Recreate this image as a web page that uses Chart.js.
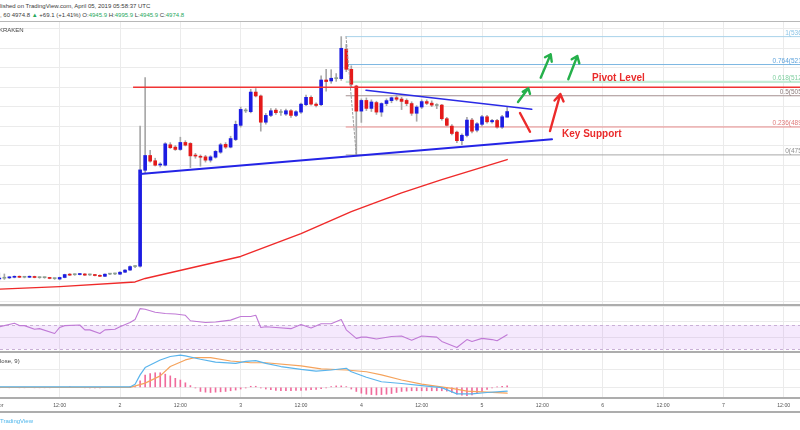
<!DOCTYPE html>
<html><head><meta charset="utf-8">
<script src="https://cdn.jsdelivr.net/npm/chart.js@4.4.1/dist/chart.umd.min.js"></script>
<style>
html,body{margin:0;padding:0;background:#fff;}
body{width:800px;height:430px;position:relative;overflow:hidden;font-family:"Liberation Sans",Arial,sans-serif;}
.t{position:absolute;white-space:nowrap;line-height:6px;}
.g{color:#27a85c;}
.sep{position:absolute;left:0;width:800px;background:#adadad;}
canvas{position:absolute;left:0;}
</style></head><body>
<div class="t" style="left:0;top:3px;font-size:6px;color:#3a3a3a">lished on TradingView.com, April 05, 2019 05:58:37 UTC</div>
<div class="t" id="ohlc" style="left:0;top:11.7px;font-size:6px;color:#3a3a3a"></div>
<div class="sep" style="top:21px;height:1px;background:#b8b8b8"></div>
<canvas id="main" width="800" height="282" style="top:22px;width:800px;height:282px"></canvas>
<div class="t" style="left:-1px;top:26.5px;font-size:6px;color:#444">KRAKEN</div>
<div class="sep" style="top:304px;height:2px"></div>
<canvas id="rsi" width="800" height="45" style="top:306px;width:800px;height:45px"></canvas>
<div class="sep" style="top:351px;height:2px"></div>
<canvas id="macd" width="800" height="58" style="top:353px;width:800px;height:58px"></canvas>
<div class="t" style="left:0;top:357.5px;font-size:6px;color:#444">lose, 9)</div>
<div class="sep" style="top:397px;height:2px"></div>
<div class="sep" style="top:411px;height:2px"></div>
<div class="t" style="left:0;top:418px;font-size:6px;color:#4db6ec">TradingView</div>
<script>
// ---------- DATA ----------
const tickHours  = [0,12,24,36,48,60,72,84,96,108,120,132,144,156];
const tickLabels = ['Apr','12:00','2','12:00','3','12:00','4','12:00','5','12:00','6','12:00','7','12:00'];
const priceGrid = [4000,4100,4200,4300,4400,4500,4600,4700,4800,4900,5000,5100,5200,5300,5400];

// hourly candles, first candle = Apr 1 00:00
const opens  = [4114,4118,4120,4123,4127,4123,4123,4127,4122,4121,4121,4117,4114,4122,4138,4136,4137,4140,4135,4136,
 4133,4128,4139,4140,4139,4149,4160,4178,4180,4673,4749,4722,4700,4699,4804,4792,4780,4816,4811,4750,
 4745,4742,4725,4740,4766,4806,4792,4831,4904,4981,4974,5075,5055,4920,4955,4982,4970,4962,4979,4955,
 4972,5010,5048,5013,5010,5137,5132,5146,5144,5295,5192,5106,4977,5032,4991,5021,4972,5016,5031,5046,
 5039,5032,5016,4966,4998,5026,5018,5008,5008,4938,4900,4869,4825,4852,4931,4879,4909,4948,4922,4929,
 4895,4945.9];
const highs  = [4146,4140,4127,4130,4130,4127,4130,4129,4125,4124,4123,4119,4124,4139,4142,4141,4143,4142,4139,4138,
 4135,4141,4143,4144,4152,4162,4182,4183,4900,5150,4775,4735,4712,4815,4815,4800,4843,4825,4815,4760,
 4752,4750,4748,4775,4812,4815,4848,4926,4998,4990,5089,5093,5060,4965,4990,4990,4985,4988,4985,4980,
 5018,5060,5055,5020,5158,5192,5190,5170,5360,5320,5210,5110,5040,5045,5035,5028,5020,5040,5050,5060,
 5048,5040,5025,5005,5035,5035,5030,5015,5012,4945,4908,4875,4860,4945,4940,4918,4955,4955,4935,4935,
 4955,4995.9];
const lows   = [4108,4112,4116,4120,4121,4120,4121,4120,4118,4118,4115,4112,4110,4120,4132,4133,4135,4132,4132,4130,
 4126,4126,4136,4137,4137,4147,4158,4172,4175,4660,4715,4695,4690,4695,4785,4775,4775,4798,4687,4735,
 4694,4715,4715,4735,4760,4785,4788,4825,4895,4970,4968,5050,4874,4910,4948,4960,4955,4955,4945,4948,
 4965,5005,5008,4998,5005,5080,5120,5130,5135,5180,5100,4752,4919,4980,4975,4960,4950,5005,5020,5030,
 4985,5005,4955,4925,4990,5010,5000,4990,4930,4900,4855,4815,4805,4845,4865,4870,4900,4915,4915,4890,
 4888,4945.9];
const closes = [4118,4120,4124,4127,4123,4124,4127,4122,4121,4121,4117,4116,4122,4137,4134,4138,4141,4134,4136,4132,
 4128,4139,4140,4140,4149,4160,4178,4180,4675,4749,4720,4699,4704,4809,4789,4780,4816,4802,4747,4746,
 4740,4725,4742,4770,4804,4792,4836,4909,4986,4978,5075,5055,4920,4955,4979,4969,4972,4979,4955,4974,
 5013,5048,5013,5006,5137,5129,5146,5144,5300,5192,5115,4977,5032,4991,5024,4972,5016,5031,5046,5038,
 5027,5016,4966,4998,5026,5017,5008,5006,4938,4904,4862,4825,4853,4931,4874,4912,4948,4922,4929,4895,
 4948,4974.8];

// moving average (read at points)
const maHours  = [0,12,27,29,40,48,60,70,80,88,101];
const maValues = [4062,4075,4099,4117,4182,4230,4347,4460,4557,4625,4728];

// RSI (read at points)
const rsiHours  = [0,3,4,5,7,8,11,12,13,16,17,18,20,21,23,24,26,27,28,29,31,33,35,37,38,41,43,44,46,48,50,51,52,53,55,58,60,62,64,66,68,69,71,72,73,75,78,80,82,84,87,88,91,93,94,96,98,99,101];
const rsiValues = [67,73,69,69,63,64,56,66,69,70,62,62,56,62,63,67,74,79,97,96,91,89,88,86,77,74,75,76,78,84,84,86,66,67,66,64,71,65,72,72,79,62,48,50,50,47,51,52,45,52,50,43,33,46,43,48,46,44,54];
const rsiBand = [30,70];
const rsiGrid = [50,75,100];

// MACD (read at points)
const macdHours  = [0,7,26,27,28,29,32,34,36,37,40,43,47,49,51,53,56,60,63,66,69,70,73,76,80,84,88,91,94,97,101];
const macdValues = [1,1,1,9,36,57,79,89,93,91,81,73,69,75,77,69,60,52,47,50,55,45,29,16,11,5,-1,-19,-19,-15,-11];
const signalHours  = [0,26,29,32,34,37,39,42,46,50,53,60,64,69,73,76,80,84,90,93,97,101];
const signalValues = [0,0,12,33,60,79,86,86,76,71,71,62,53,50,45,36,21,9,-3,-11,-14,-17];
const histValues = [-1,0,-1,0,-1,-1,0,-1,-1,-1,-1,0,0,0,1,0,0,-1,-1,-1,-1,0,0,0,0,0,1,2,
 19,35,40,42,42,38,33,26,21,13,5,-2,
 -12,-14,-15,-14,-13,-12,-10,-8,-5,
 -2,3,3,-2,
 -5,-7,-9,-10,-10,-10,-9,-9,-8,-7,-6,-4,-2,2,
 4,4,2,
 -5,-12,-17,-20,-21,-22,-21,-20,-18,-15,
 -12,-11,-10,-10,-10,-10,-10,-10,-10,-11,
 -15,-20,-23,-24,-22,-18,-12,
 -6,-2,1,3,4];
const macdGrid = [0,50];

// drawings (hour, price)
const pivotLevel = 5100;
const pivotStart = 26.6;
const fibHigh = 5360, fibLow = 4752, fibStart = 68.9;
const fibRatios = [1,0.764,0.618,0.5,0.236,0];
const fibDiag = [[68.95,5360],[70.99,4752]];
const supportLine = [[27.98,4653.8],[109.92,4832.2]];
const resistLine  = [[72.93,5084.1],[105.88,4986.4]];
const greenArrows = [
  [[103.16,5023.9],[105.21,5094.3],[104.09,5076.9],[105.21,5094.3],[105.54,5066.1]],
  [[107.67,5148.8],[109.66,5269.1],[108.53,5253.7],[109.66,5269.1],[109.86,5231.1]],
  [[113.16,5140.6],[114.95,5260.4],[113.84,5243.4],[114.95,5260.4],[115.35,5222.8]]
];
const redArrow = [[109.52,4874.9],[111.57,5065.0],[110.42,5031.6],[111.57,5065.0],[112.21,5026.5]];
const redStroke = [[103.55,4967.4],[105.54,4871.3]];
const notes = [{text:'Pivot Level',h:117.87,p:5129.3},{text:'Key Support',h:111.91,p:4842.5}];

// ---------- RANGES / STYLES ----------
const X_MIN = 0.134, X_MAX = 159.24;
const MAIN_MIN = 3985.64, MAIN_MAX = 5435.12;
const RSI_MIN = 27.2, RSI_MAX = 101.28;
const MACD_MIN = -28.0, MACD_MAX = 99.1;
const GRID = '#ebebeb';
const UP = '#1c1ce2', DOWN = '#e41a1a', DOJI = '#8a9e90';
const fibColors = ['#a8d2ea','#7db7e2','#c4ebd6','#a58f8f','#e88a8a','#a9a9a9'];
const fibWidths = [1,1,2.2,1,1,1];
const fibText = ['#8cc4e6','#5fa3dc','#7fcf9f','#8d7b7b','#e07a7a','#8f8f8f'];
const FONT = '"Liberation Sans", Arial, sans-serif';

document.getElementById('ohlc').innerHTML =
  ', 60 ' + closes[closes.length-1].toFixed(1) + ' <span class="g">&#9650;</span> +69.1 (+1.41%) O:<span class="g">' +
  opens[opens.length-1].toFixed(1) + '</span> H:<span class="g">' + highs[highs.length-1].toFixed(1) +
  '</span> L:<span class="g">' + lows[lows.length-1].toFixed(1) + '</span> C:<span class="g">' + closes[closes.length-1].toFixed(1) + '</span>';

const pts = arr => arr.map(([x,y]) => ({x,y}));
const zip = (hs, vs) => hs.map((h,i) => ({x:h, y:vs[i]}));
const lineDs = (data, color, width, order, extra) => Object.assign({type:'line', data, borderColor:color, borderWidth:width,
  pointRadius:0, tension:0, fill:false, order, borderCapStyle:'round', borderJoinStyle:'round'}, extra||{});

function xScale(showLabels){
  return {type:'linear', min:X_MIN, max:X_MAX, offset:false, bounds:'data',
    grid:{color:GRID, drawTicks:false, offset:false}, border:{display:false},
    afterBuildTicks: s => { s.ticks = tickHours.map(v => ({value:v})); },
    ticks: showLabels ? {display:true, autoSkip:false, maxRotation:0, padding:5.5, color:'#555',
       font:{family:FONT, size:5.2}, callback:(v) => tickLabels[tickHours.indexOf(v)]} : {display:false},
    afterFit: s => { s.height = showLabels ? 14 : 0; s.paddingLeft = 0; s.paddingRight = 0; }};
}
function yScale(min, max, grid){
  return {type:'linear', min, max, bounds:'data', grid:{color:GRID, drawTicks:false}, border:{display:false},
    ticks:{display:false}, afterBuildTicks: s => { s.ticks = grid.map(v => ({value:v})); },
    afterFit: s => { s.width = 0; s.paddingTop = 0; s.paddingBottom = 0; }};
}
const baseOpts = {responsive:false, animation:false, events:[], layout:{padding:0, autoPadding:false},
  plugins:{legend:{display:false}, tooltip:{enabled:false}}};

// ---------- MAIN ----------
const candleColor = i => Math.abs(closes[i]-opens[i]) <= 3 ? DOJI : (closes[i] > opens[i] ? UP : DOWN);
const datasets = [];
datasets.push({type:'bar', data: opens.map((o,i)=>({x:i, y:[o, closes[i]]})), backgroundColor: c => candleColor(c.dataIndex),
  barThickness:3, minBarLength:1, grouped:false, order:2});
datasets.push({type:'bar', data: opens.map((o,i)=>({x:i, y:[lows[i], highs[i]]})), backgroundColor:'#a8a8a8',
  barThickness:1, grouped:false, order:3});
datasets.push(lineDs(zip(maHours, maValues), '#ef2a2a', 1.4, 4));
fibRatios.forEach((r,i) => {
  const p = fibLow + r*(fibHigh-fibLow);
  datasets.push(lineDs([{x:fibStart,y:p},{x:175,y:p}], fibColors[i], fibWidths[i], 5, {borderCapStyle:'butt'}));
});
datasets.push(lineDs(pts(fibDiag), '#9a9a9a', 1, 1, {borderDash:[2,2]}));
datasets.push(lineDs([{x:pivotStart,y:pivotLevel},{x:175,y:pivotLevel}], '#f03434', 1.4, 1, {borderCapStyle:'butt'}));
datasets.push(lineDs(pts(supportLine), '#2424e6', 2, 0));
datasets.push(lineDs(pts(resistLine), '#2a2ae6', 1.6, 0));
greenArrows.forEach(a => datasets.push(lineDs(pts(a), '#25b04b', 2.4, 0)));
datasets.push(lineDs(pts(redArrow), '#ec2a2a', 2.4, 0));
datasets.push(lineDs(pts(redStroke), '#ec2a2a', 2.4, 0));

const mainLabels = {id:'mainLabels', afterDatasetsDraw(chart){
  const {ctx, scales:{x,y}} = chart;
  ctx.save();
  ctx.font = '6.5px ' + FONT; ctx.textAlign = 'right'; ctx.textBaseline = 'alphabetic';
  fibRatios.forEach((r,i) => {
    const p = fibLow + r*(fibHigh-fibLow);
    ctx.fillStyle = fibText[i];
    ctx.fillText(r + '(' + p.toFixed(1) + ')', x.right + 13, y.getPixelForValue(p) - 1.5);
  });
  ctx.textAlign = 'left'; ctx.font = 'bold 10px ' + FONT; ctx.fillStyle = '#ea2b2b';
  notes.forEach(n => ctx.fillText(n.text, x.getPixelForValue(n.h), y.getPixelForValue(n.p)));
  ctx.restore();
}};

new Chart(document.getElementById('main'), {type:'bar', data:{datasets}, plugins:[mainLabels],
  options:Object.assign({}, baseOpts, {scales:{x:xScale(false), y:yScale(MAIN_MIN, MAIN_MAX, priceGrid)}})});

// ---------- RSI ----------
const rsiBandPlugin = {id:'rsiBand', beforeDatasetsDraw(chart){
  const {ctx, chartArea:a, scales:{y}} = chart;
  const y1 = y.getPixelForValue(rsiBand[1]), y0 = y.getPixelForValue(rsiBand[0]);
  ctx.save();
  ctx.fillStyle = 'rgba(190,120,240,0.16)';
  ctx.fillRect(a.left, y1, a.right-a.left, y0-y1);
  ctx.strokeStyle = '#c9b0d6'; ctx.lineWidth = 1; ctx.setLineDash([3,3]);
  [y1,y0].forEach(py => { ctx.beginPath(); ctx.moveTo(a.left, Math.round(py)+0.5); ctx.lineTo(a.right, Math.round(py)+0.5); ctx.stroke(); });
  ctx.restore();
}};
new Chart(document.getElementById('rsi'), {type:'line',
  data:{datasets:[lineDs(zip(rsiHours, rsiValues), '#c07ad6', 1.1, 0)]}, plugins:[rsiBandPlugin],
  options:Object.assign({}, baseOpts, {scales:{x:xScale(false), y:yScale(RSI_MIN, RSI_MAX, rsiGrid)}})});

// ---------- MACD ----------
new Chart(document.getElementById('macd'), {type:'bar',
  data:{datasets:[
    lineDs(zip(macdHours, macdValues), '#5ab4ec', 1.2, 0),
    lineDs(zip(signalHours, signalValues), '#f5a35c', 1.2, 1),
    {type:'bar', data: histValues.map((v,i)=>({x:i, y:v})), backgroundColor:'#f06b9c', barThickness:1, grouped:false, order:2}
  ]},
  options:Object.assign({}, baseOpts, {scales:{x:xScale(true), y:yScale(MACD_MIN, MACD_MAX, macdGrid)}})});
</script>
</body></html>
